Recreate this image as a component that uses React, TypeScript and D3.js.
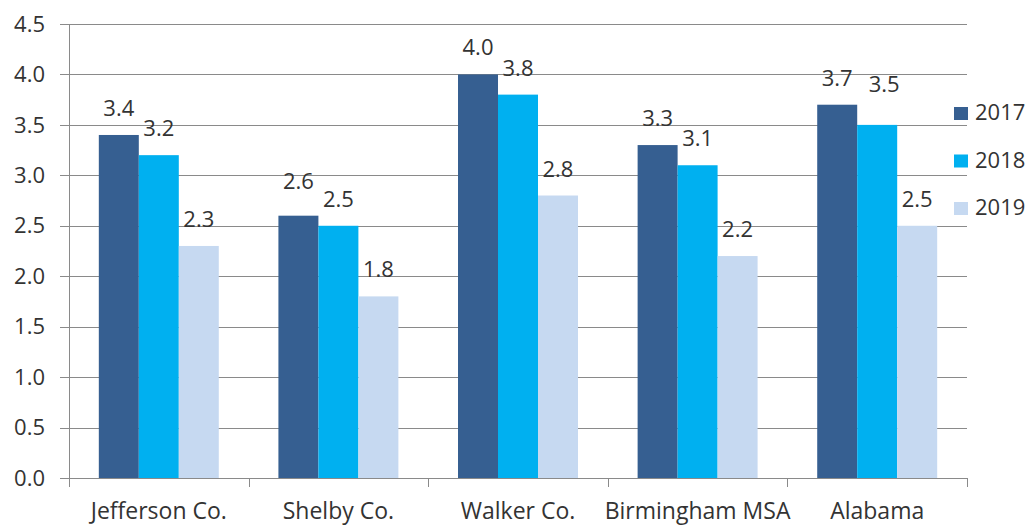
import React from "react";
import * as d3 from "d3";

// Unemployment-style rates by area, three years side by side
const categories = ["Jefferson Co.", "Shelby Co.", "Walker Co.", "Birmingham MSA", "Alabama"];
const years = ["2017", "2018", "2019"];
const values2017 = [3.4, 2.6, 4.0, 3.3, 3.7];
const values2018 = [3.2, 2.5, 3.8, 3.1, 3.5];
const values2019 = [2.3, 1.8, 2.8, 2.2, 2.5];
const yTicks = [0, 0.5, 1.0, 1.5, 2.0, 2.5, 3.0, 3.5, 4.0, 4.5];

const seriesValues = [values2017, values2018, values2019];
const colors = ["#365F91", "#00B0F0", "#C6D9F1"];

// a few data labels sit a little higher to keep clear of their neighbours
const labelNudge: Record<string, [number, number]> = {
  "Shelby Co.|2017": [0, -8],
  "Alabama|2018": [7, -14],
};

const W = 1031;
const H = 525;
const left = 69;
const right = 967;
const top = 24;
const bottom = 478;
const FONT = "'Open Sans', 'Noto Sans', sans-serif";
const TEXT = "#333333";
const GRID = "#8a8a8a";

export default function App() {
  const x0 = d3.scaleBand<string>().domain(categories).range([left, right]).padding(0);
  const bw = x0.bandwidth();
  const groupW = bw * 0.668;
  const x1 = d3
    .scaleBand<string>()
    .domain(years)
    .range([(bw - groupW) / 2, (bw + groupW) / 2])
    .padding(0);
  const y = d3.scaleLinear().domain([0, 4.5]).range([bottom, top]);
  const fmt = d3.format(".1f");

  const catTicks = [left, ...categories.map((c) => (x0(c) as number) + bw)];

  return (
    <svg
      width={W}
      height={H}
      style={{ position: "absolute", left: 0, top: 0, background: "#ffffff" }}
      fontFamily={FONT}
    >
      <rect x={0} y={0} width={W} height={H} fill="#ffffff" />
      {/* horizontal gridlines and y tick labels */}
      {yTicks.map((t) => (
        <g key={"y" + t}>
          <line
            x1={left - 9}
            x2={right}
            y1={Math.round(y(t)) + 0.5}
            y2={Math.round(y(t)) + 0.5}
            stroke={GRID}
            strokeWidth={1}
          />
          <text
            x={45}
            y={y(t)}
            dy="0.35em"
            textAnchor="end"
            fontSize={22}
            fill={TEXT}
          >
            {fmt(t)}
          </text>
        </g>
      ))}
      {/* y axis line */}
      <line x1={left + 0.5} x2={left + 0.5} y1={top} y2={bottom + 9} stroke={GRID} strokeWidth={1} />
      {/* category tick marks */}
      {catTicks.map((tx, i) => (
        <line
          key={"ct" + i}
          x1={Math.round(tx) + 0.5}
          x2={Math.round(tx) + 0.5}
          y1={bottom}
          y2={bottom + 9}
          stroke={GRID}
          strokeWidth={1}
        />
      ))}
      {/* bars */}
      {categories.map((c, ci) => (
        <g key={"g" + c} transform={`translate(${x0(c)},0)`}>
          {years.map((yr, si) => {
            const v = seriesValues[si][ci];
            return (
              <rect
                key={yr}
                x={x1(yr) as number}
                y={y(v)}
                width={x1.bandwidth()}
                height={bottom - y(v)}
                fill={colors[si]}
              />
            );
          })}
        </g>
      ))}
      {/* redraw the baseline over the bars */}
      <line x1={left - 9} x2={right} y1={bottom + 0.5} y2={bottom + 0.5} stroke={GRID} strokeWidth={1} />
      {/* data labels */}
      {categories.map((c, ci) =>
        years.map((yr, si) => {
          const v = seriesValues[si][ci];
          const nudge = labelNudge[c + "|" + yr] || [0, 0];
          const cx = (x0(c) as number) + (x1(yr) as number) + x1.bandwidth() / 2;
          return (
            <text
              key={"l" + c + yr}
              x={cx + nudge[0]}
              y={y(v) - 19 + nudge[1]}
              textAnchor="middle"
              fontSize={22}
              fill={TEXT}
            >
              {fmt(v)}
            </text>
          );
        })
      )}
      {/* category labels */}
      {categories.map((c) => (
        <text
          key={"c" + c}
          x={(x0(c) as number) + bw / 2}
          y={519}
          textAnchor="middle"
          fontSize={23}
          fill={TEXT}
        >
          {c}
        </text>
      ))}
      {/* legend */}
      {years.map((yr, i) => (
        <g key={"lg" + yr} transform={`translate(954,${107 + i * 47.5})`}>
          <rect x={0} y={0} width={14} height={13} fill={colors[i]} />
          <text x={21} y={13} fontSize={22} fill={TEXT}>
            {yr}
          </text>
        </g>
      ))}
    </svg>
  );
}
